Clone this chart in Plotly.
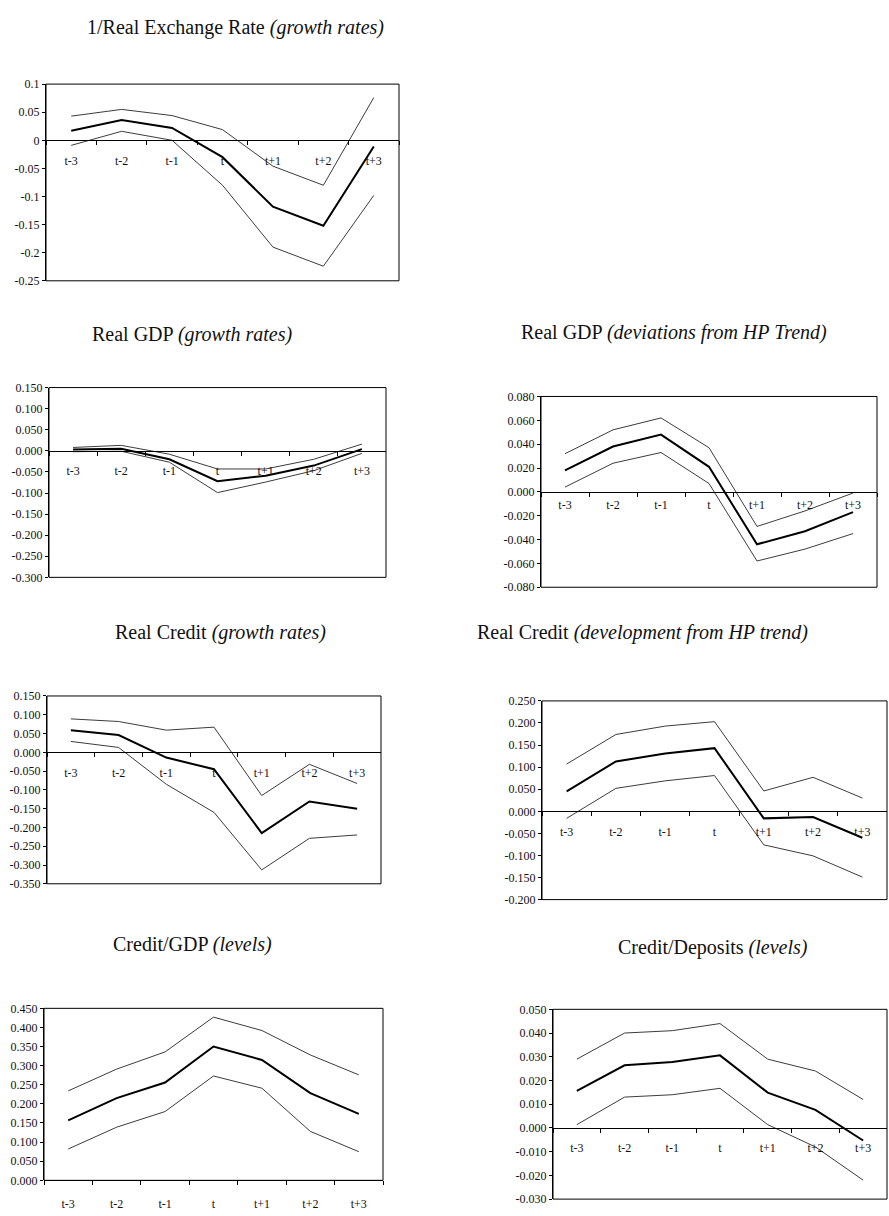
import plotly.graph_objects as go

# Event window around the crisis date t
periods = ["t-3", "t-2", "t-1", "t", "t+1", "t+2", "t+3"]

# 1/Real Exchange Rate (growth rates)
rer_mid = [0.017, 0.036, 0.022, -0.030, -0.118, -0.152, -0.011]
rer_hi = [0.043, 0.055, 0.044, 0.019, -0.046, -0.080, 0.076]
rer_lo = [-0.009, 0.016, 0.000, -0.080, -0.190, -0.224, -0.098]
rer_ticks = ["0.1", "0.05", "0", "-0.05", "-0.1", "-0.15", "-0.2", "-0.25"]

# Real GDP (growth rates)
gdpg_mid = [0.003, 0.005, -0.020, -0.072, -0.059, -0.035, 0.004]
gdpg_hi = [0.008, 0.013, -0.008, -0.043, -0.043, -0.020, 0.016]
gdpg_lo = [-0.002, -0.001, -0.027, -0.099, -0.074, -0.047, -0.006]
gdpg_ticks = ["0.150", "0.100", "0.050", "0.000", "-0.050", "-0.100",
              "-0.150", "-0.200", "-0.250", "-0.300"]

# Real GDP (deviations from HP trend)
gdphp_mid = [0.018, 0.038, 0.048, 0.021, -0.044, -0.033, -0.017]
gdphp_hi = [0.032, 0.052, 0.062, 0.037, -0.029, -0.016, -0.001]
gdphp_lo = [0.004, 0.024, 0.033, 0.007, -0.058, -0.048, -0.035]
gdphp_ticks = ["0.080", "0.060", "0.040", "0.020", "0.000", "-0.020",
               "-0.040", "-0.060", "-0.080"]

# Real Credit (growth rates)
crg_mid = [0.059, 0.046, -0.014, -0.045, -0.215, -0.131, -0.150]
crg_hi = [0.089, 0.082, 0.059, 0.067, -0.115, -0.032, -0.083]
crg_lo = [0.029, 0.013, -0.085, -0.160, -0.313, -0.229, -0.220]
crg_ticks = ["0.150", "0.100", "0.050", "0.000", "-0.050", "-0.100",
             "-0.150", "-0.200", "-0.250", "-0.300", "-0.350"]

# Real Credit (development from HP trend)
crhp_mid = [0.045, 0.113, 0.131, 0.143, -0.016, -0.013, -0.060]
crhp_hi = [0.107, 0.174, 0.193, 0.203, 0.046, 0.077, 0.030]
crhp_lo = [-0.016, 0.052, 0.069, 0.081, -0.076, -0.101, -0.149]
crhp_ticks = ["0.250", "0.200", "0.150", "0.100", "0.050", "0.000",
              "-0.050", "-0.100", "-0.150", "-0.200"]

# Credit/GDP (levels)
cgdp_mid = [0.157, 0.215, 0.256, 0.350, 0.315, 0.228, 0.174]
cgdp_hi = [0.234, 0.291, 0.336, 0.427, 0.392, 0.328, 0.276]
cgdp_lo = [0.082, 0.139, 0.180, 0.273, 0.241, 0.128, 0.075]
cgdp_ticks = ["0.450", "0.400", "0.350", "0.300", "0.250", "0.200",
              "0.150", "0.100", "0.050", "0.000"]

# Credit/Deposits (levels)
cdep_mid = [0.0156, 0.0264, 0.0278, 0.0306, 0.0149, 0.0076, -0.0053]
cdep_hi = [0.029, 0.040, 0.041, 0.044, 0.029, 0.024, 0.012]
cdep_lo = [0.0014, 0.013, 0.014, 0.0167, 0.0014, -0.008, -0.022]
cdep_ticks = ["0.050", "0.040", "0.030", "0.020", "0.010", "0.000",
              "-0.010", "-0.020", "-0.030"]

W, H = 889, 1216
FONT = "Liberation Serif"

# title, italic part, series, tick labels, plot box (px), title centre (px), label standoff
panels = [
    ("1/Real Exchange Rate", "(growth rates)", (rer_mid, rer_hi, rer_lo), rer_ticks,
     (46, 78, 399, 277), (235, 21), 9),
    ("Real GDP", "(growth rates)", (gdpg_mid, gdpg_hi, gdpg_lo), gdpg_ticks,
     (49, 385, 386, 577), (192, 331), 9),
    ("Real GDP", "(deviations from HP Trend)", (gdphp_mid, gdphp_hi, gdphp_lo), gdphp_ticks,
     (541, 394, 877, 587), (674, 329), 2),
    ("Real Credit", "(growth rates)", (crg_mid, crg_hi, crg_lo), crg_ticks,
     (47, 697, 381, 887), (220, 633), 9),
    ("Real Credit", "(development from HP trend)", (crhp_mid, crhp_hi, crhp_lo), crhp_ticks,
     (542, 702, 887, 903), (642, 633), 9),
    ("Credit/GDP", "(levels)", (cgdp_mid, cgdp_hi, cgdp_lo), cgdp_ticks,
     (44, 1013, 383, 1187), (192, 948), 12),
    ("Credit/Deposits", "(levels)", (cdep_mid, cdep_hi, cdep_lo), cdep_ticks,
     (553, 1014, 887, 1206), (713, 951), 9),
]

fig = go.Figure()
annotations = []
shapes = []

for i, (title, sub, (mid, hi, lo), ticks, box, tpos, standoff) in enumerate(panels, start=1):
    sfx = "" if i == 1 else str(i)
    xa, ya = "x" + sfx, "y" + sfx
    x0, y0, x1, y1 = box
    xdom = [x0 / W, x1 / W]
    ydom = [1 - y1 / H, 1 - y0 / H]
    tickvals = [float(t) for t in ticks]
    ymin, ymax = min(tickvals), max(tickvals)
    # category axis crosses the value axis at zero
    xpos = ydom[0] + (0 - ymin) / (ymax - ymin) * (ydom[1] - ydom[0])

    for series, color, width in ((hi, "#3c3c3c", 1), (lo, "#3c3c3c", 1), (mid, "#000000", 2)):
        fig.add_trace(go.Scatter(
            x=periods, y=series, mode="lines", xaxis=xa, yaxis=ya,
            line=dict(color=color, width=width), showlegend=False, hoverinfo="skip",
        ))

    fig.layout["xaxis" + sfx] = dict(
        domain=xdom, anchor="free", position=xpos,
        type="category", categoryorder="array", categoryarray=periods,
        range=[-0.5, len(periods) - 0.5],
        showline=True, linecolor="#000", linewidth=1,
        ticks="outside", tickson="boundaries", ticklen=4, tickcolor="#000",
        showgrid=False, zeroline=False,
        tickfont=dict(family=FONT, size=12, color="#111"),
        ticklabelstandoff=standoff,
    )
    fig.layout["yaxis" + sfx] = dict(
        domain=ydom, anchor=xa, range=[ymin, ymax],
        tickmode="array", tickvals=tickvals, ticktext=ticks,
        showline=True, linecolor="#000", linewidth=1,
        ticks="outside", ticklen=3, tickcolor="#000",
        showgrid=False, zeroline=False,
        tickfont=dict(family=FONT, size=12, color="#111"),
    )
    shapes.append(dict(
        type="rect", xref=xa + " domain", yref=ya + " domain",
        x0=0, x1=1, y0=0, y1=1, line=dict(color="#000", width=1),
    ))
    annotations.append(dict(
        text=f"{title} <i>{sub}</i>", xref="paper", yref="paper",
        x=tpos[0] / W, y=1 - tpos[1] / H, xanchor="center", yanchor="middle",
        showarrow=False, font=dict(family=FONT, size=20, color="#111"),
    ))

fig.update_layout(
    width=W, height=H,
    margin=dict(l=0, r=0, t=0, b=0),
    paper_bgcolor="white", plot_bgcolor="white",
    annotations=annotations, shapes=shapes,
    showlegend=False,
)

fig.write_html("out.html")
